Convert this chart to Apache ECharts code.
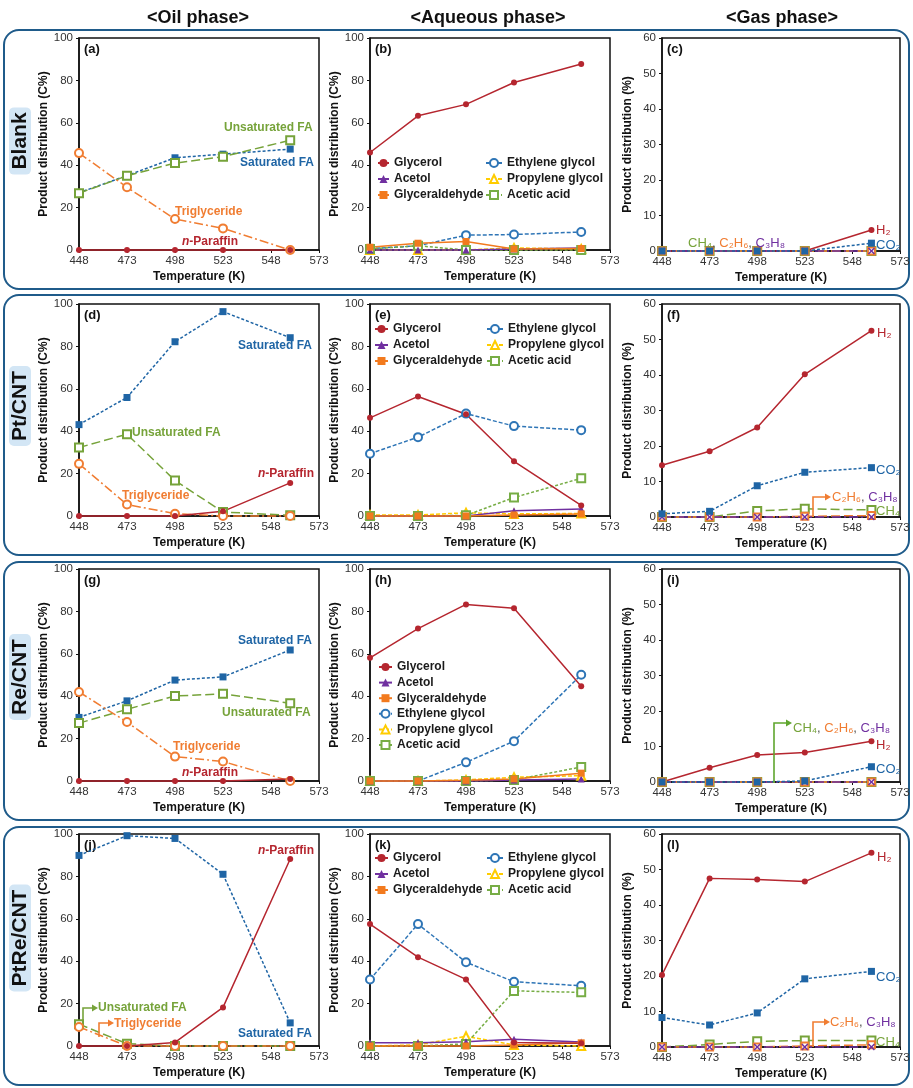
<!DOCTYPE html>
<html><head><meta charset="utf-8">
<script src="https://cdn.jsdelivr.net/npm/echarts@6/dist/echarts.min.js"></script>
<style>html,body{margin:0;padding:0;background:#fff}#c{width:913px;height:1088px}</style>
</head><body><div id="c"></div>
<script>
// ---------- data ----------
const temps = [448, 473, 498, 523, 558];
const xTickLabels = ['448', '473', '498', '523', '548', '573'];

// (a) Blank – oil
const a_saturatedFA   = [27.0, 35.1, 43.5, 45.2, 47.6];
const a_unsaturatedFA = [26.8, 35.0, 41.0, 44.0, 51.8];
const a_triglyceride  = [45.7, 29.6, 14.6, 10.2, 0];
const a_nParaffin     = [0, 0, 0, 0, 0];
// (b) Blank – aqueous
const b_glycerol        = [46.0, 63.3, 68.7, 79.0, 87.7];
const b_acetol          = [0, 0, 0, 0.5, 1.0];
const b_glyceraldehyde  = [1.3, 3.2, 4.0, 0.5, 0.7];
const b_ethyleneGlycol  = [0.6, 2.0, 7.0, 7.3, 8.5];
const b_propyleneGlycol = [0, 0, 0, 1.0, 0.5];
const b_aceticAcid      = [0.5, 2.0, 0, 0, 0];
// (c) Blank – gas
const c_H2   = [0, 0, 0, 0, 5.9];
const c_CO2  = [0, 0, 0, 0, 2.2];
const c_CH4  = [0, 0, 0, 0, 0];
const c_C2H6 = [0, 0, 0, 0, 0];
const c_C3H8 = [0, 0, 0, 0, 0];
// (d) Pt/CNT – oil
const d_saturatedFA   = [43.1, 55.9, 82.2, 96.4, 84.1];
const d_unsaturatedFA = [32.3, 38.6, 16.7, 1.9, 0.3];
const d_triglyceride  = [24.6, 5.4, 1.1, 0, 0];
const d_nParaffin     = [0, 0, 0, 2.2, 15.6];
// (e) Pt/CNT – aqueous
const e_glycerol        = [46.3, 56.4, 48.0, 25.8, 5.0];
const e_acetol          = [0, 0, 0, 2.5, 3.3];
const e_glyceraldehyde  = [0, 0, 0, 0.5, 1.0];
const e_ethyleneGlycol  = [29.4, 37.2, 48.3, 42.4, 40.5];
const e_propyleneGlycol = [0.5, 0.5, 1.5, 1.0, 1.2];
const e_aceticAcid      = [0, 0, 0.3, 8.7, 17.8];
// (f) Pt/CNT – gas
const f_H2   = [14.6, 18.5, 25.2, 40.2, 52.5];
const f_CO2  = [0.9, 1.6, 8.8, 12.6, 13.9];
const f_CH4  = [0, 0, 1.7, 2.3, 2.0];
const f_C2H6 = [0, 0, 0, 0.2, 0.4];
const f_C3H8 = [0, 0, 0, 0, 0];
// (g) Re/CNT – oil
const g_saturatedFA   = [30.0, 37.8, 47.6, 49.1, 61.8];
const g_unsaturatedFA = [27.3, 33.8, 40.1, 41.1, 36.7];
const g_triglyceride  = [42.0, 27.8, 11.5, 9.2, 0];
const g_nParaffin     = [0, 0, 0, 0, 1.0];
// (h) Re/CNT – aqueous
const h_glycerol        = [58.1, 71.9, 83.3, 81.5, 44.7];
const h_acetol          = [0, 0, 0, 0.5, 1.0];
const h_glyceraldehyde  = [0, 0, 0.3, 1.0, 3.7];
const h_ethyleneGlycol  = [0, 0, 8.8, 18.8, 50.1];
const h_propyleneGlycol = [0, 0, 0.5, 1.8, 2.5];
const h_aceticAcid      = [0, 0, 0, 0.5, 6.6];
// (i) Re/CNT – gas
const i_H2   = [0, 4.0, 7.6, 8.3, 11.5];
const i_CO2  = [0, 0, 0, 0.3, 4.3];
const i_CH4  = [0, 0, 0, 0, 0];
const i_C2H6 = [0, 0, 0, 0, 0];
const i_C3H8 = [0, 0, 0, 0, 0];
// (j) PtRe/CNT – oil
const j_saturatedFA   = [89.9, 99.2, 97.9, 81.0, 10.9];
const j_unsaturatedFA = [10.3, 1.1, 0, 0, 0];
const j_triglyceride  = [9.0, 0, 0, 0, 0];
const j_nParaffin     = [0, 0, 1.7, 18.2, 88.2];
// (k) PtRe/CNT – aqueous
const k_glycerol        = [57.5, 41.9, 31.4, 1.6, 1.3];
const k_acetol          = [1.5, 1.5, 2.0, 3.2, 1.9];
const k_glyceraldehyde  = [0, 0, 0, 0.5, 1.5];
const k_ethyleneGlycol  = [31.4, 57.5, 39.5, 30.3, 28.4];
const k_propyleneGlycol = [0, 0.5, 4.6, 0.5, 0];
const k_aceticAcid      = [0, 0, 1.0, 26.0, 25.3];
// (l) PtRe/CNT – gas
const l_H2   = [20.3, 47.5, 47.2, 46.6, 54.7];
const l_CO2  = [8.3, 6.2, 9.6, 19.2, 21.3];
const l_CH4  = [0, 0.7, 1.6, 1.8, 1.8];
const l_C2H6 = [0, 0, 0, 0.3, 0.6];
const l_C3H8 = [0, 0, 0, 0, 0];

const rowNames = ['Blank', 'Pt/CNT', 'Re/CNT', 'PtRe/CNT'];
const colTitles = ['<Oil phase>', '<Aqueous phase>', '<Gas phase>'];
const panelLetters = ['(a)','(b)','(c)','(d)','(e)','(f)','(g)','(h)','(i)','(j)','(k)','(l)'];

// ---------- styles ----------
const FF = "'Liberation Sans', Arial, Helvetica, sans-serif";
const RED = '#B5262F', BLUE = '#1F65A5', GREEN = '#76A33A', ORANGE = '#F07D32', PURPLE = '#7030A0';
const XPATH = 'path://M0,1.5L1.5,0L5,3.5L8.5,0L10,1.5L6.5,5L10,8.5L8.5,10L5,6.5L1.5,10L0,8.5L3.5,5Z';
const STY = {
  'Saturated FA':     [BLUE, 'rect', 7, [3, 2]],
  'Unsaturated FA':   [GREEN, 'emptyRect', 8, [9, 4]],
  'Triglyceride':     [ORANGE, 'emptyCircle', 8, [9, 3, 2, 3]],
  'n-Paraffin':       [RED, 'circle', 6, 'solid'],
  'Glycerol':         [RED, 'circle', 6, 'solid'],
  'Acetol':           [PURPLE, 'triangle', 7, 'solid'],
  'Glyceraldehyde':   ['#F27A1E', 'rect', 7, 'solid'],
  'Ethylene glycol':  ['#2E75B6', 'emptyCircle', 8, [4, 2]],
  'Propylene glycol': ['#FFCC00', 'emptyTriangle', 8, [4, 2]],
  'Acetic acid':      ['#77AD45', 'emptyRect', 8, [3, 2]],
  'H2':               [RED, 'circle', 6, 'solid'],
  'CO2':              [BLUE, 'rect', 7, [3, 2]],
  'CH4':              [GREEN, 'emptyRect', 8, [9, 4]],
  'C2H6':             [ORANGE, 'emptyRect', 7, [9, 4]],
  'C3H8':             [PURPLE, XPATH, 7, [9, 3, 2, 3]]
};

const panels = [
  [['Saturated FA', a_saturatedFA], ['Unsaturated FA', a_unsaturatedFA], ['Triglyceride', a_triglyceride], ['n-Paraffin', a_nParaffin]],
  [['Ethylene glycol', b_ethyleneGlycol], ['Propylene glycol', b_propyleneGlycol], ['Acetic acid', b_aceticAcid], ['Acetol', b_acetol], ['Glyceraldehyde', b_glyceraldehyde], ['Glycerol', b_glycerol]],
  [['H2', c_H2], ['CH4', c_CH4], ['C2H6', c_C2H6], ['C3H8', c_C3H8], ['CO2', c_CO2]],
  [['Saturated FA', d_saturatedFA], ['Unsaturated FA', d_unsaturatedFA], ['Triglyceride', d_triglyceride], ['n-Paraffin', d_nParaffin]],
  [['Ethylene glycol', e_ethyleneGlycol], ['Propylene glycol', e_propyleneGlycol], ['Acetic acid', e_aceticAcid], ['Acetol', e_acetol], ['Glyceraldehyde', e_glyceraldehyde], ['Glycerol', e_glycerol]],
  [['H2', f_H2], ['CH4', f_CH4], ['C2H6', f_C2H6], ['C3H8', f_C3H8], ['CO2', f_CO2]],
  [['Saturated FA', g_saturatedFA], ['Unsaturated FA', g_unsaturatedFA], ['Triglyceride', g_triglyceride], ['n-Paraffin', g_nParaffin]],
  [['Ethylene glycol', h_ethyleneGlycol], ['Propylene glycol', h_propyleneGlycol], ['Acetic acid', h_aceticAcid], ['Acetol', h_acetol], ['Glyceraldehyde', h_glyceraldehyde], ['Glycerol', h_glycerol]],
  [['H2', i_H2], ['CH4', i_CH4], ['C2H6', i_C2H6], ['C3H8', i_C3H8], ['CO2', i_CO2]],
  [['Saturated FA', j_saturatedFA], ['Unsaturated FA', j_unsaturatedFA], ['Triglyceride', j_triglyceride], ['n-Paraffin', j_nParaffin]],
  [['Ethylene glycol', k_ethyleneGlycol], ['Propylene glycol', k_propyleneGlycol], ['Acetic acid', k_aceticAcid], ['Acetol', k_acetol], ['Glyceraldehyde', k_glyceraldehyde], ['Glycerol', k_glycerol]],
  [['H2', l_H2], ['CH4', l_CH4], ['C2H6', l_C2H6], ['C3H8', l_C3H8], ['CO2', l_CO2]]
];

// ---------- layout ----------
const colLeft = [79, 370, 662], colWidth = [240, 240, 238];
const rowTop = [38, 304, 569, 834];
const plotH = [212, 212, 213];

const grids = [], xAxes = [], yAxes = [], series = [];
panels.forEach((ser, i) => {
  const r = Math.floor(i / 3), c = i % 3;
  const gas = c === 2;
  grids.push({ left: colLeft[c], top: rowTop[r], width: colWidth[c], height: plotH[c], show: true,
    borderColor: '#111', borderWidth: 1.5, backgroundColor: 'transparent', containLabel: false, outerBoundsMode: 'none' });
  xAxes.push({ gridIndex: i, type: 'value', min: 0, max: 125, interval: 25,
    axisLine: { show: true, onZero: false, lineStyle: { color: '#111', width: 1.5 } },
    axisTick: { show: true, length: 3, lineStyle: { color: '#111' } },
    splitLine: { show: false },
    axisLabel: { formatter: v => xTickLabels[Math.round(v / 25)], fontSize: 11.5, color: '#333', margin: 5, fontFamily: FF },
    name: 'Temperature (K)', nameLocation: 'middle', nameGap: 21,
    nameTextStyle: { fontWeight: 'bold', fontSize: 12, color: '#111', fontFamily: FF } });
  yAxes.push({ gridIndex: i, type: 'value', min: 0, max: gas ? 60 : 100, interval: gas ? 10 : 20,
    axisLine: { show: true, onZero: false, lineStyle: { color: '#111', width: 1.5 } },
    axisTick: { show: true, length: 3, lineStyle: { color: '#111' } },
    splitLine: { show: false },
    axisLabel: { fontSize: 11.5, color: '#333', margin: 6, fontFamily: FF },
    name: gas ? 'Product distribution (%)' : 'Product distribution (C%)',
    nameLocation: 'middle', nameGap: gas ? 28 : 26, nameRotate: 90,
    nameTextStyle: { fontWeight: 'bold', fontSize: 12, color: '#111', fontFamily: FF } });
  ser.forEach(([name, vals]) => {
    const [color, symbol, size, type] = STY[name];
    series.push({ type: 'line', name, xAxisIndex: i, yAxisIndex: i,
      data: temps.map((t, k) => [t - temps[0], vals[k]]),
      symbol, symbolSize: size, showSymbol: true, clip: false, animation: false,
      lineStyle: { color, width: 1.5, type },
      itemStyle: { color, borderColor: color, borderWidth: symbol.startsWith('empty') ? 1.4 : 0 },
      emphasis: { disabled: true } });
  });
});

// ---------- legends (aqueous panels) ----------
const legCol1 = ['Glycerol', 'Acetol', 'Glyceraldehyde'];
const legCol2 = ['Ethylene glycol', 'Propylene glycol', 'Acetic acid'];
const legBase = { orient: 'vertical', selectedMode: false, itemWidth: 16, itemHeight: 10, itemGap: 2, padding: 0,
  textStyle: { fontSize: 12, fontWeight: 'bold', color: '#1a1a1a', fontFamily: FF, lineHeight: 14 } };
const legends = [
  { left: 377, top: 156, itemWidth: 11, data: legCol1 }, { left: 485, top: 156, data: legCol2 },
  { left: 374, top: 322, itemWidth: 13, data: legCol1 }, { left: 486, top: 322, data: legCol2 },
  { left: 378, top: 660, itemWidth: 13, data: legCol1.concat(legCol2), itemGap: 1.6 },
  { left: 374, top: 851, itemWidth: 13, data: legCol1 }, { left: 486, top: 851, data: legCol2 }
].map(l => Object.assign({}, legBase, l));

// ---------- decorations & annotation text ----------
const graphic = [];
[[4, 30, 905, 259], [4, 295, 905, 260], [4, 562, 905, 258], [4, 827, 905, 258]].forEach(([x, y, w, h]) => {
  graphic.push({ type: 'rect', z: -10, shape: { x, y, width: w, height: h, r: 15 },
    style: { fill: null, stroke: '#1F5B8A', lineWidth: 2 } });
});
[[198, 18], [488, 18], [782, 18]].forEach(([x, y], k) => {
  graphic.push({ type: 'text', x, y, style: { text: colTitles[k], fontSize: 18, fontWeight: 'bold',
    fontFamily: FF, fill: '#111', align: 'center', verticalAlign: 'middle' } });
});
[[20, 141], [20, 406], [20, 677], [20, 938]].forEach(([x, y], k) => {
  graphic.push({ type: 'text', x, y, rotation: Math.PI / 2, style: { text: rowNames[k], fontSize: 21,
    fontWeight: 'bold', fontFamily: FF, fill: '#111', align: 'center', verticalAlign: 'middle',
    backgroundColor: '#D3E6F5', padding: [1, 5, 0, 5], borderRadius: 5,
    boxShadowBlur: 6, boxShadowColor: '#D3E6F5' } });
});
panelLetters.forEach((t, i) => {
  const r = Math.floor(i / 3), c = i % 3;
  graphic.push({ type: 'text', x: colLeft[c] + 5, y: rowTop[r] + 11, style: { text: t, fontSize: 13,
    fontWeight: 'bold', fontFamily: FF, fill: '#111', align: 'left', verticalAlign: 'middle' } });
});

const rich = {
  r: { fill: RED }, b: { fill: BLUE }, g: { fill: GREEN }, o: { fill: ORANGE }, p: { fill: PURPLE }, k: { fill: '#555' },
  ri: { fill: RED, fontStyle: 'italic', fontWeight: 'bold', fontSize: 12, fontFamily: FF }
};
function ann(x, y, text, bold) {
  graphic.push({ type: 'text', x, y, z: 5, style: { text, rich, fontSize: bold ? 12 : 13, fontWeight: bold ? 'bold' : 'normal',
    fontFamily: FF, align: 'left', verticalAlign: 'middle', fill: '#111' } });
}
function arrow(pts, color) {
  graphic.push({ type: 'polyline', z: 5, shape: { points: pts }, style: { stroke: color, lineWidth: 1.6, fill: null } });
  const [x, y] = pts[pts.length - 1];
  graphic.push({ type: 'polygon', z: 5, shape: { points: [[x - 1, y - 3.5], [x + 5, y], [x - 1, y + 3.5]] }, style: { fill: color } });
}
// oil-phase labels
const oilLabels = [
  [224, 128, '{g|Unsaturated FA}'], [240, 163, '{b|Saturated FA}'], [175, 212, '{o|Triglyceride}'], [182, 242, '{ri|n}{r|-Paraffin}'],
  [238, 346, '{b|Saturated FA}'], [132, 433, '{g|Unsaturated FA}'], [122, 496, '{o|Triglyceride}'], [258, 474, '{ri|n}{r|-Paraffin}'],
  [238, 641, '{b|Saturated FA}'], [222, 713, '{g|Unsaturated FA}'], [173, 747, '{o|Triglyceride}'], [182, 773, '{ri|n}{r|-Paraffin}'],
  [258, 851, '{ri|n}{r|-Paraffin}'], [238, 1034, '{b|Saturated FA}'], [98, 1008, '{g|Unsaturated FA}'], [114, 1024, '{o|Triglyceride}']
];
oilLabels.forEach(([x, y, t]) => ann(x, y, t, true));
// gas-phase labels
const gasLabels = [
  [688, 243, '{g|CH₄}{k|, }{o|C₂H₆}{k|, }{p|C₃H₈}'], [876, 230, '{r|H₂}'], [876, 245, '{b|CO₂}'],
  [877, 333, '{r|H₂}'], [876, 470, '{b|CO₂}'], [876, 511, '{g|CH₄}'], [832, 497, '{o|C₂H₆}{k|, }{p|C₃H₈}'],
  [793, 728, '{g|CH₄}{k|, }{o|C₂H₆}{k|, }{p|C₃H₈}'], [876, 745, '{r|H₂}'], [876, 769, '{b|CO₂}'],
  [877, 857, '{r|H₂}'], [876, 977, '{b|CO₂}'], [876, 1042, '{g|CH₄}'], [830, 1022, '{o|C₂H₆}{k|, }{p|C₃H₈}']
];
gasLabels.forEach(([x, y, t]) => ann(x, y, t, false));
arrow([[813, 517], [813, 497], [826, 497]], ORANGE);
arrow([[774, 783], [774, 723], [787, 723]], '#5FA62E');
arrow([[83, 1023], [83, 1008], [93, 1008]], GREEN);
arrow([[99, 1037], [99, 1023], [109, 1023]], ORANGE);
arrow([[813, 1047], [813, 1022], [825, 1022]], ORANGE);

const chart = echarts.init(document.getElementById('c'), null, { renderer: 'canvas' });
chart.setOption({
  animation: false,
  backgroundColor: '#fff',
  textStyle: { fontFamily: FF },
  grid: grids, xAxis: xAxes, yAxis: yAxes, series, legend: legends, graphic,
  tooltip: { show: false }
});
</script></body></html>
